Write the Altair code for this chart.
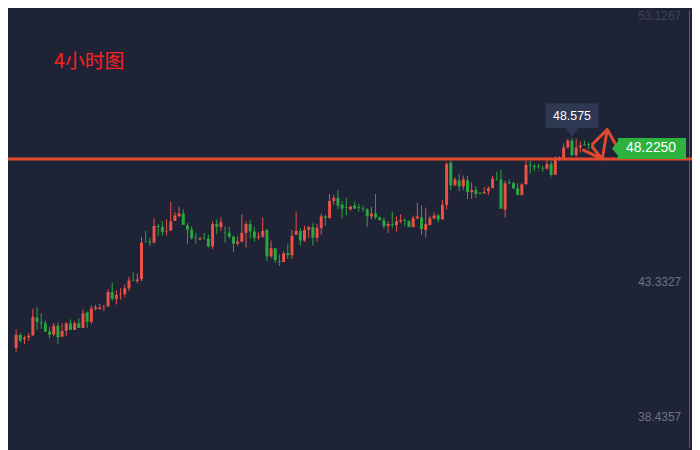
import altair as alt
import pandas as pd

# ---- candle data (4h bars) ----
open_ = [40.95, 41.43, 41.27, 41.34, 41.41, 42.06, 41.88, 41.85, 41.55, 41.44,
         41.76, 41.36, 41.58, 41.85, 41.61, 41.85, 41.68, 42.24, 41.90, 42.37,
         42.36, 42.43, 42.46, 42.98, 42.74, 42.89, 42.91, 43.12, 43.40, 43.38,
         43.45, 44.81, 44.81, 44.78, 45.38, 45.34, 45.18, 45.21, 45.56, 45.74,
         45.83, 45.40, 45.25, 44.96, 44.89, 44.95, 44.92, 44.64, 45.45, 45.34,
         45.14, 45.13, 44.99, 44.74, 44.81, 45.13, 45.45, 45.18, 44.96, 45.00,
         45.24, 44.28, 44.57, 44.11, 44.07, 44.39, 44.32, 45.06, 45.20, 44.85,
         45.24, 45.34, 44.95, 45.31, 45.73, 45.66, 46.29, 46.40, 46.15, 46.06,
         45.99, 46.12, 46.06, 46.02, 45.99, 45.73, 45.83, 45.69, 45.59, 45.38,
         45.45, 45.41, 45.55, 45.59, 45.55, 45.34, 45.66, 45.69, 45.24, 45.41,
         45.66, 45.76, 45.62, 46.15, 47.67, 46.86, 47.03, 46.82, 47.03, 46.61,
         46.68, 46.58, 46.57, 46.64, 46.75, 47.10, 47.07, 45.98, 46.96, 46.93,
         46.75, 46.50, 46.89, 47.60, 47.56, 47.56, 47.49, 47.46, 47.63, 47.24,
         47.84, 47.84, 48.23, 48.48, 47.95, 48.23, 48.34, 48.34, 48.29]
high = [41.63, 41.49, 41.40, 41.49, 42.38, 42.45, 42.21, 41.95, 41.72, 41.85,
        41.88, 41.85, 41.89, 41.99, 41.93, 42.03, 42.35, 42.28, 42.49, 42.52,
        42.56, 42.52, 43.08, 43.33, 43.05, 43.12, 43.26, 43.54, 43.72, 43.65,
        44.99, 45.20, 44.95, 45.66, 45.45, 45.55, 45.62, 46.26, 45.89, 46.08,
        45.98, 45.48, 45.37, 45.12, 44.98, 45.13, 45.06, 45.54, 45.62, 45.69,
        45.35, 45.34, 45.03, 45.00, 45.80, 45.55, 45.59, 45.34, 45.15, 45.69,
        45.27, 44.85, 44.60, 44.35, 44.46, 44.74, 45.24, 45.90, 45.31, 45.38,
        45.38, 45.48, 45.45, 45.83, 45.80, 46.54, 46.50, 46.68, 46.29, 46.40,
        46.12, 46.26, 46.19, 46.12, 46.02, 46.08, 46.54, 45.73, 45.69, 45.55,
        45.90, 45.73, 45.80, 45.66, 45.59, 45.76, 46.22, 46.12, 46.05, 45.76,
        45.87, 45.83, 46.33, 47.70, 47.74, 47.14, 47.28, 47.21, 47.21, 46.96,
        46.82, 46.61, 46.79, 46.82, 47.21, 47.35, 47.42, 47.03, 47.07, 47.00,
        46.93, 46.93, 47.74, 47.74, 47.63, 47.63, 47.56, 47.88, 47.74, 47.91,
        47.91, 48.37, 48.55, 48.575, 48.55, 48.44, 48.48, 48.41, 48.38]
low = [40.81, 41.16, 41.09, 41.22, 41.40, 41.61, 41.65, 41.54, 41.30, 41.37,
       41.09, 41.36, 41.37, 41.61, 41.61, 41.68, 41.68, 41.68, 41.83, 42.32,
       42.36, 42.29, 42.46, 42.67, 42.53, 42.71, 42.80, 43.02, 43.38, 43.31,
       43.38, 44.79, 44.65, 44.74, 45.03, 45.03, 45.03, 45.21, 45.56, 45.70,
       45.42, 44.74, 44.88, 44.74, 44.86, 44.88, 44.60, 44.54, 45.09, 45.20,
       44.78, 44.92, 44.43, 44.67, 44.81, 44.60, 44.92, 44.81, 44.88, 44.95,
       44.11, 44.21, 44.04, 43.93, 44.07, 44.18, 44.18, 45.06, 44.67, 44.81,
       44.95, 44.67, 44.81, 45.06, 45.38, 45.66, 46.15, 45.98, 45.66, 45.76,
       45.94, 46.01, 45.90, 45.90, 45.34, 45.62, 45.62, 45.59, 45.27, 45.13,
       45.31, 45.17, 45.48, 45.38, 45.34, 45.34, 45.62, 45.06, 44.95, 45.41,
       45.62, 45.52, 45.62, 45.98, 46.68, 46.82, 46.64, 46.68, 46.36, 46.36,
       46.40, 46.54, 46.54, 46.50, 46.75, 47.03, 46.01, 45.69, 46.89, 46.72,
       46.50, 46.50, 46.89, 47.28, 47.38, 47.46, 47.35, 47.42, 47.17, 47.24,
       47.74, 47.84, 48.19, 47.91, 47.88, 48.05, 48.30, 48.16, 48.21]
close = [41.43, 41.22, 41.32, 41.40, 42.08, 41.90, 41.85, 41.55, 41.44, 41.76,
         41.34, 41.57, 41.85, 41.61, 41.85, 41.68, 42.21, 41.90, 42.38, 42.43,
         42.42, 42.45, 42.98, 42.74, 42.88, 42.91, 43.12, 43.40, 43.38, 43.44,
         44.78, 44.79, 44.78, 45.38, 45.35, 45.17, 45.20, 45.55, 45.76, 45.83,
         45.42, 45.25, 44.95, 44.94, 44.93, 44.93, 44.63, 45.45, 45.34, 45.52,
         45.12, 44.99, 44.74, 44.81, 45.13, 45.45, 45.18, 44.95, 45.00, 45.20,
         44.28, 44.57, 44.14, 44.08, 44.39, 44.32, 45.02, 45.20, 44.85, 45.24,
         45.34, 44.95, 45.31, 45.73, 45.68, 46.29, 46.40, 46.12, 46.01, 46.03,
         46.08, 46.01, 46.03, 46.00, 45.73, 45.83, 45.69, 45.59, 45.38, 45.45,
         45.42, 45.55, 45.59, 45.56, 45.34, 45.66, 45.73, 45.27, 45.45, 45.66,
         45.76, 45.62, 46.15, 47.63, 46.86, 47.07, 46.82, 47.07, 46.61, 46.68,
         46.54, 46.55, 46.61, 46.75, 47.10, 47.08, 46.01, 46.93, 46.93, 46.75,
         46.50, 46.89, 47.60, 47.57, 47.53, 47.54, 47.47, 47.63, 47.24, 47.77,
         47.88, 48.23, 48.48, 47.95, 48.23, 48.30, 48.31, 48.31, 48.25]

# price-axis labels
top_tick_value = [53.1267]
top_tick_label = ["53.1267"]
tick_values = [43.3327, 38.4357]
tick_labels = ["43.3327", "38.4357"]

resistance = [47.807]          # hand-drawn horizontal line
last_label = ["48.2250"]
peak_index = [134]
peak_value = [48.575]
peak_label = ["48.575"]
title_text = ["4小时图"]

RED = "#eb5146"
GREEN = "#2aa83e"
BG = "#1e2336"
NUM_FONT = "Liberation Sans"

W, H = 692, 442
xscale = alt.Scale(domain=[0.24, 161.53], nice=False, zero=False)
yscale = alt.Scale(domain=[37.344, 53.197], nice=False, zero=False)

df = pd.DataFrame({
    "i": list(range(1, len(open_) + 1)),
    "open": open_, "high": high, "low": low, "close": close,
})
df["color"] = [RED if c >= o else GREEN for o, c in zip(open_, close)]

X = lambda f: alt.X(f, scale=xscale, axis=None)
Y = lambda f: alt.Y(f, scale=yscale, axis=None)

base = alt.Chart(df)
wicks = base.mark_rule(strokeWidth=1).encode(
    x=X("i:Q"), y=Y("low:Q"), y2="high:Q",
    color=alt.Color("color:N", scale=None))
bodies = base.mark_bar(size=3).encode(
    x=X("i:Q"), y=Y("open:Q"), y2="close:Q",
    color=alt.Color("color:N", scale=None))

line = alt.Chart(pd.DataFrame({"v": resistance})).mark_rule(
    color="#e2482d", strokeWidth=3).encode(y=Y("v:Q"))

axis_labels = alt.Chart(pd.DataFrame({"v": tick_values, "t": tick_labels})).mark_text(
    align="right", baseline="middle", fontSize=12, font=NUM_FONT, color="#6d7487").encode(
    x=alt.value(681), y=Y("v:Q"), text="t:N")
top_label = alt.Chart(pd.DataFrame({"v": top_tick_value, "t": top_tick_label})).mark_text(
    align="right", baseline="middle", fontSize=12, font=NUM_FONT, color="#3d4459", dy=4).encode(
    x=alt.value(681), y=Y("v:Q"), text="t:N")

right_border = alt.Chart(pd.DataFrame({"a": [0]})).mark_rule(
    color="#9c4e30", strokeWidth=1).encode(
    x=alt.value(689.5), y=alt.value(0), y2=alt.value(H))

# last price tag (green, with arrow notch on the left)
tag_path = "M 0 0 L 6 -7 L 6 -10.6 L 75 -10.6 L 75 10.6 L 6 10.6 L 6 7 Z"
tag_df = pd.DataFrame({"x": [143.56], "xt": [152.9], "v": [48.19], "t": last_label})
tag = alt.Chart(tag_df).mark_point(
    shape=tag_path, size=4, filled=True, opacity=1, color="#2db23f").encode(
    x=X("x:Q"), y=Y("v:Q"))
tag_text = alt.Chart(tag_df).mark_text(
    color="white", fontSize=14, font=NUM_FONT, baseline="middle", align="center").encode(
    x=X("xt:Q"), y=Y("v:Q"), text="t:N")

# high tooltip bubble
bubble_path = ("M -25 -35 L 25 -35 Q 27 -35 27 -33 L 27 -12 Q 27 -10 25 -10 "
               "L 6 -10 L 0 -1 L -6 -10 L -25 -10 Q -27 -10 -27 -12 L -27 -33 "
               "Q -27 -35 -25 -35 Z")
peak_df = pd.DataFrame({"x": peak_index, "v": peak_value, "t": peak_label})
bubble = alt.Chart(peak_df).mark_point(
    shape=bubble_path, size=4, filled=True, opacity=1, color="#2e3853").encode(
    x=X("x:Q"), y=Y("v:Q"))
bubble_text = alt.Chart(peak_df).mark_text(
    color="white", fontSize=12.5, font=NUM_FONT, baseline="middle", dy=-22).encode(
    x=X("x:Q"), y=Y("v:Q"), text="t:N")

# hand-drawn arrow
arrow_path = ("M -19 -9 L 0 0 L 5 -30 L 14 -14 M 5 -30 L -10 -15 "
              "M -10 -12 L 0 0")
arrow_df = pd.DataFrame({"x": [141.25], "v": resistance})
arrow = alt.Chart(arrow_df).mark_point(
    shape=arrow_path, size=4, filled=False, opacity=1, color="#e2482d",
    strokeWidth=3, strokeJoin="round", strokeCap="round").encode(
    x=X("x:Q"), y=Y("v:Q"))

title = alt.Chart(pd.DataFrame({"t": title_text})).mark_text(
    align="left", baseline="alphabetic", fontSize=20, color="#ff1f1f",
    font="Noto Sans CJK SC").encode(
    x=alt.value(46.5), y=alt.value(58.4), text="t:N")

chart = alt.layer(
    axis_labels, top_label, right_border, wicks, bodies, line, arrow,
    tag, tag_text, bubble, bubble_text, title
).properties(
    width=W, height=H, background=BG, padding=0,
    autosize=alt.AutoSizeParams(type="none")
).configure_view(stroke=None)

chart.save("out.html", embed_options={"renderer": "svg", "actions": False})
